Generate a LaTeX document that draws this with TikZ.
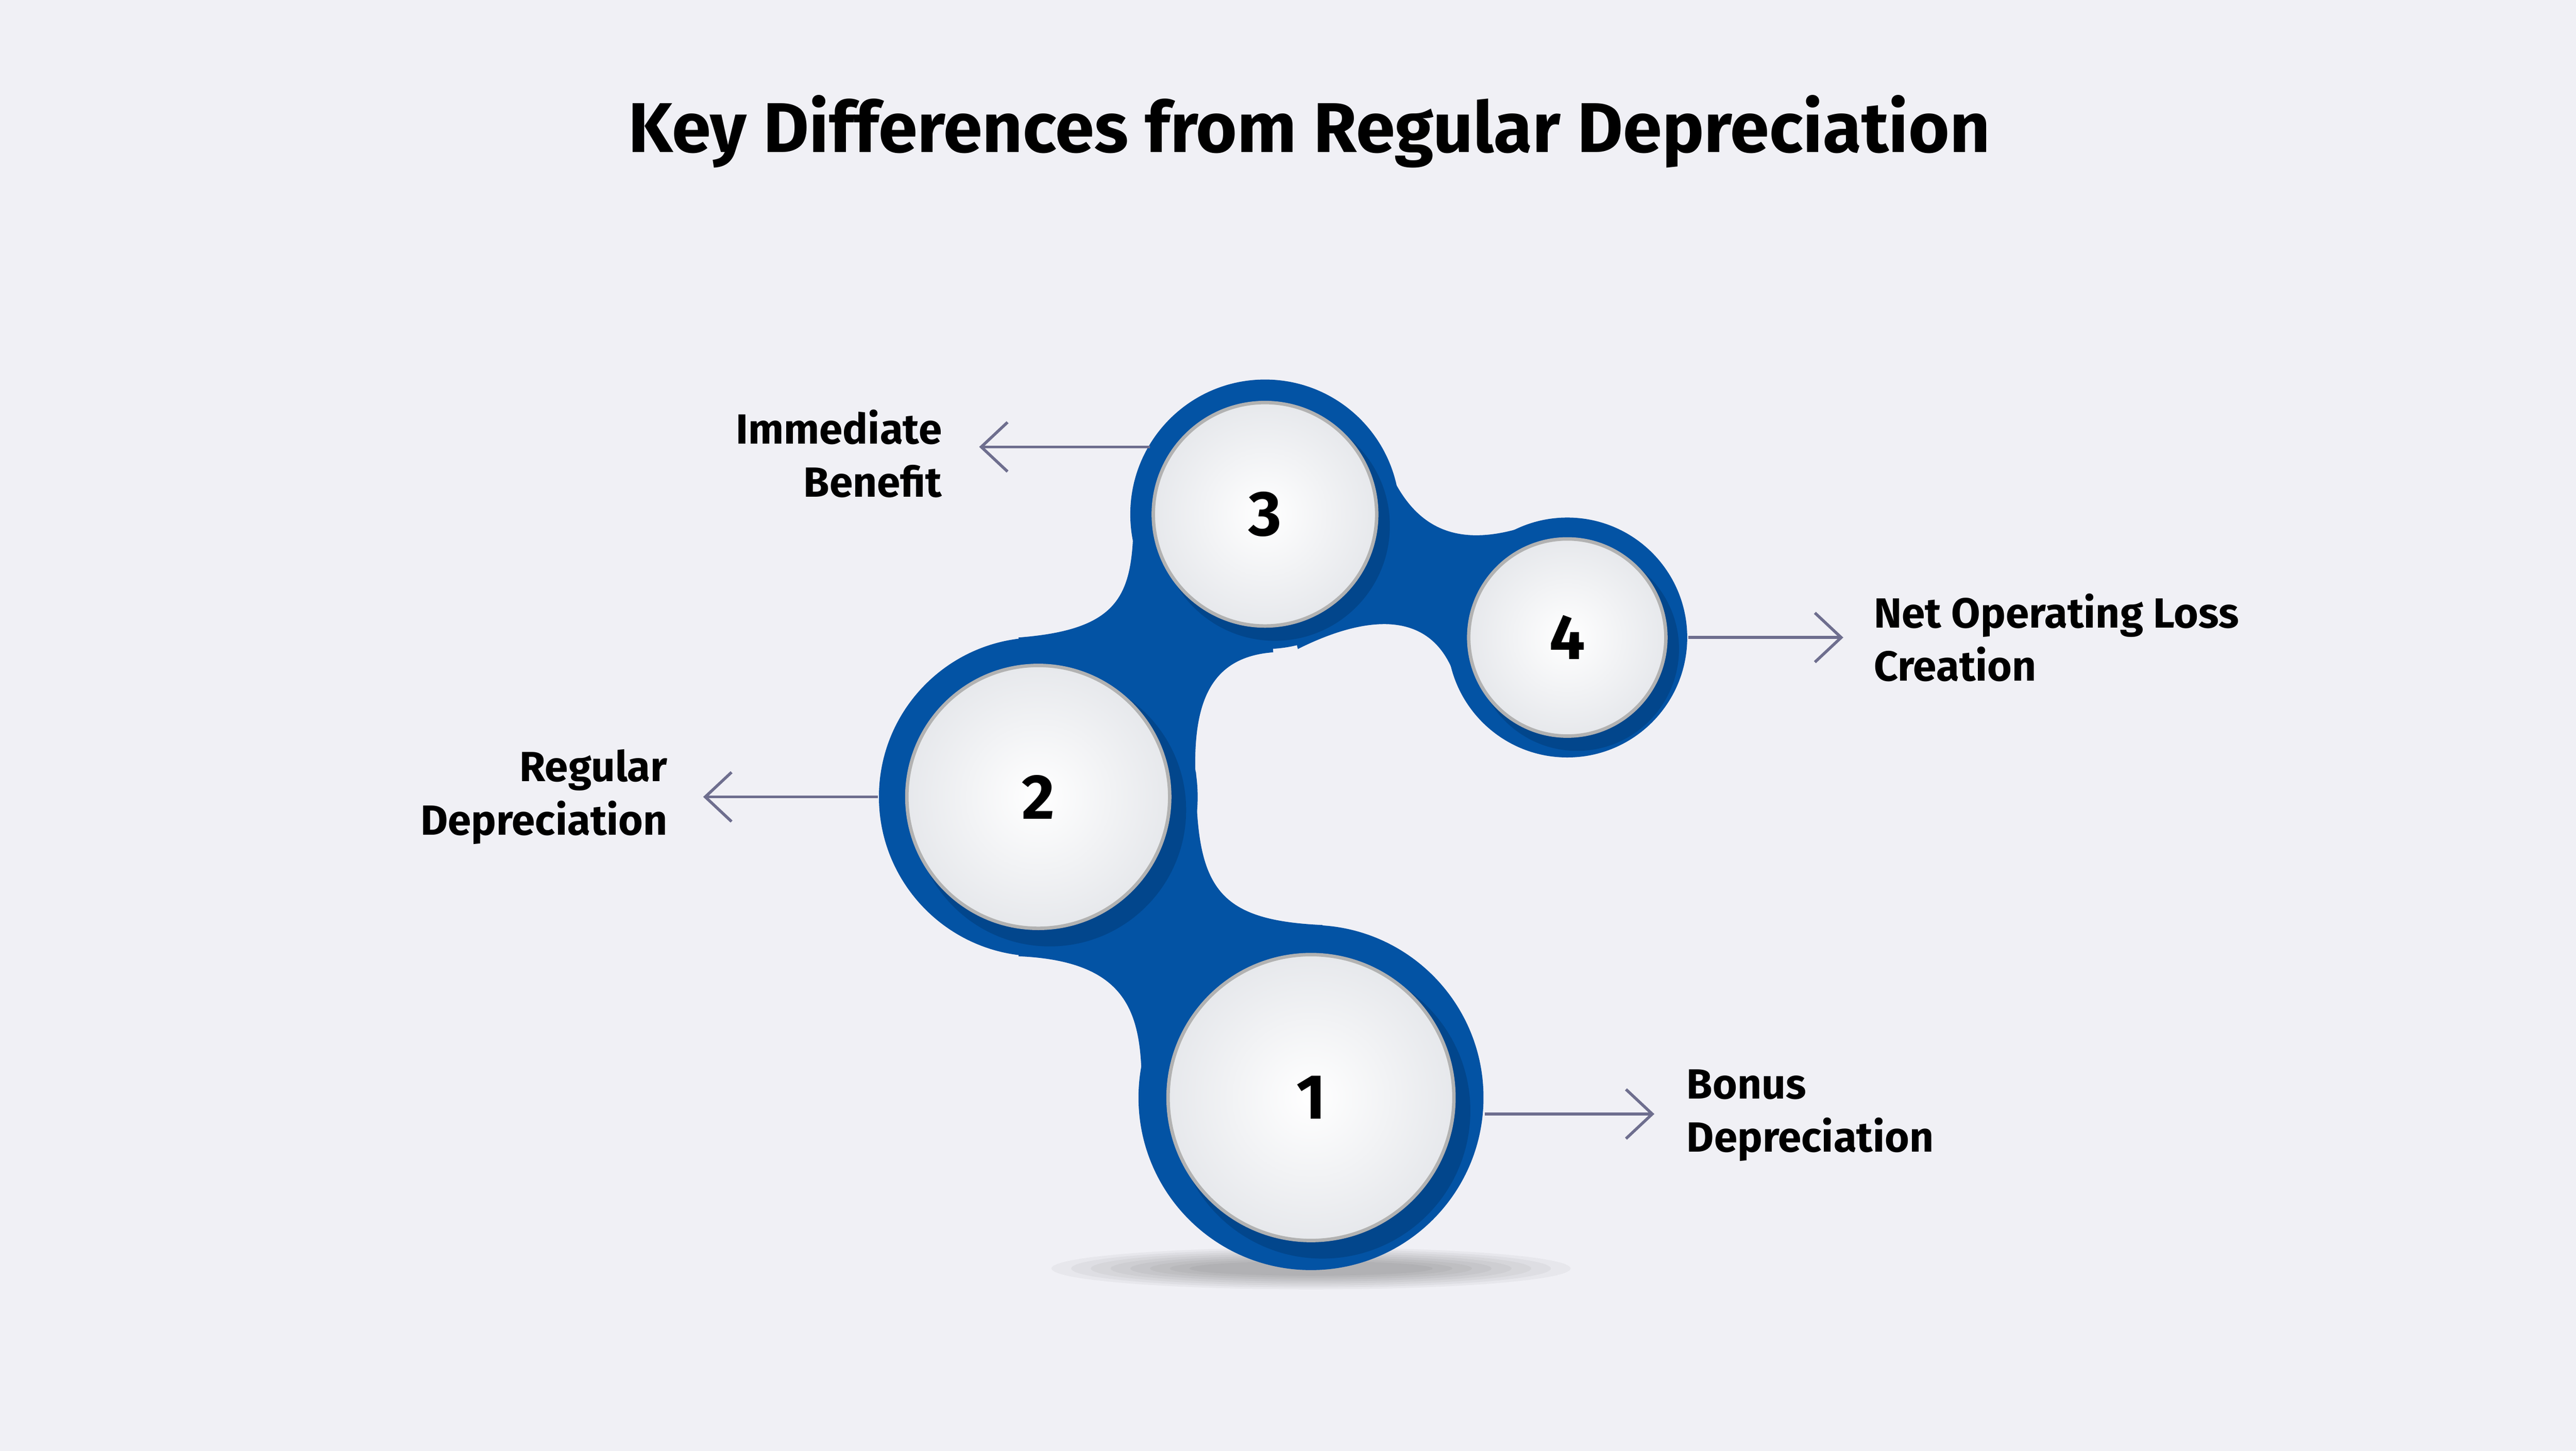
\documentclass[tikz,border=0pt]{standalone}
\usepackage{fontspec}
\setmainfont{Fira Sans}
\usetikzlibrary{arrows.meta}
\definecolor{bg}{HTML}{F0F0F5}
\definecolor{blu}{HTML}{0353A4}
\definecolor{dblu}{HTML}{023E7D}
\definecolor{wc}{HTML}{F2F4F8}
\definecolor{arr}{HTML}{6E6E8E}
\tikzset{
  blob/.style={fill=blu,draw=none},
  outer/.style={circle,fill=blu,minimum size=#1,inner sep=0pt},
  inner/.style={circle,inner color=white,outer color=wc!90!gray,draw=gray!60,line width=0.6pt,minimum size=#1,inner sep=0pt,font=\fontsize{11}{13}\selectfont\bfseries},
  conn/.style={arr,line width=0.5pt,-{Straight Barb[length=1.6mm,width=3mm]}},
  lab/.style={font=\fontsize{7.3}{9.2}\selectfont\bfseries,inner sep=0pt}
}
\begin{document}
\begin{tikzpicture}[x=0.1mm,y=-0.1mm]
\fill[bg] (0,0) rectangle (1568,883);
\useasboundingbox (0,0) rectangle (1568,883);
\node[font=\fontsize{12.2}{14}\selectfont\bfseries] (title) at (797,80) {Key Differences from Regular Depreciation};
% shadow under circle 1
\foreach \i in {1,...,8}{\fill[black,opacity=0.035] (798,772) ellipse ({170-\i*12} and {14-\i*1.2});}
% blobs
\fill[blob] (620,582) .. controls (690,585) and (695,620) .. (695,665) -- (798,668) -- (805,563) .. controls (740,560) and (728,540) .. (728,470) -- (632,485) -- cycle;
\fill[blob] (620,388) .. controls (685,383) and (690,360) .. (690,310) -- (770,313) -- (775,397) .. controls (735,400) and (725,430) .. (728,480) -- (632,485) -- cycle;
\fill[blob] (845,285) .. controls (860,320) and (885,335) .. (930,320) -- (954,388) -- (885,410) .. controls (870,370) and (830,375) .. (790,395) -- (770,313) -- cycle;
% circles
\node[outer=210*0.1mm] (o1) at (798,668) {};
\node[outer=194*0.1mm] (o2) at (632,485) {};
\node[outer=164*0.1mm] (o3) at (770,313) {};
\node[outer=146*0.1mm] (o4) at (954,388) {};
\fill[dblu,opacity=0.6] (805,676) circle (90);
\fill[dblu,opacity=0.6] (639,493) circle (83);
\fill[dblu,opacity=0.6] (776,320) circle (70);
\fill[dblu,opacity=0.6] (960,395) circle (62);
\node[inner=174*0.1mm] (c1) at (798,668) {1};
\node[inner=160*0.1mm] (c2) at (632,485) {2};
\node[inner=136*0.1mm] (c3) at (770,313) {3};
\node[inner=120*0.1mm] (c4) at (954,388) {4};
% labels
\node[lab,anchor=west,align=left] (l1) at (1026,679) {Bonus\\Depreciation};
\node[lab,anchor=east,align=right] (l2) at (407,485) {Regular\\Depreciation};
\node[lab,anchor=east,align=right] (l3) at (574,276) {Immediate\\Benefit};
\node[lab,anchor=west,align=left] (l4) at (1140,388) {Net Operating Loss\\Creation};
\coordinate (a1) at (1007,678); \coordinate (a2) at (428,485);
\coordinate (a3) at (596,272); \coordinate (a4) at (1122,388);
\draw[conn] (o1.east |- a1) -- (a1);
\draw[conn] (o2.west) -- (a2);
\draw[conn] (700,272) -- (a3);
\draw[conn] (o4.east) -- (a4);
\end{tikzpicture}
\end{document}
